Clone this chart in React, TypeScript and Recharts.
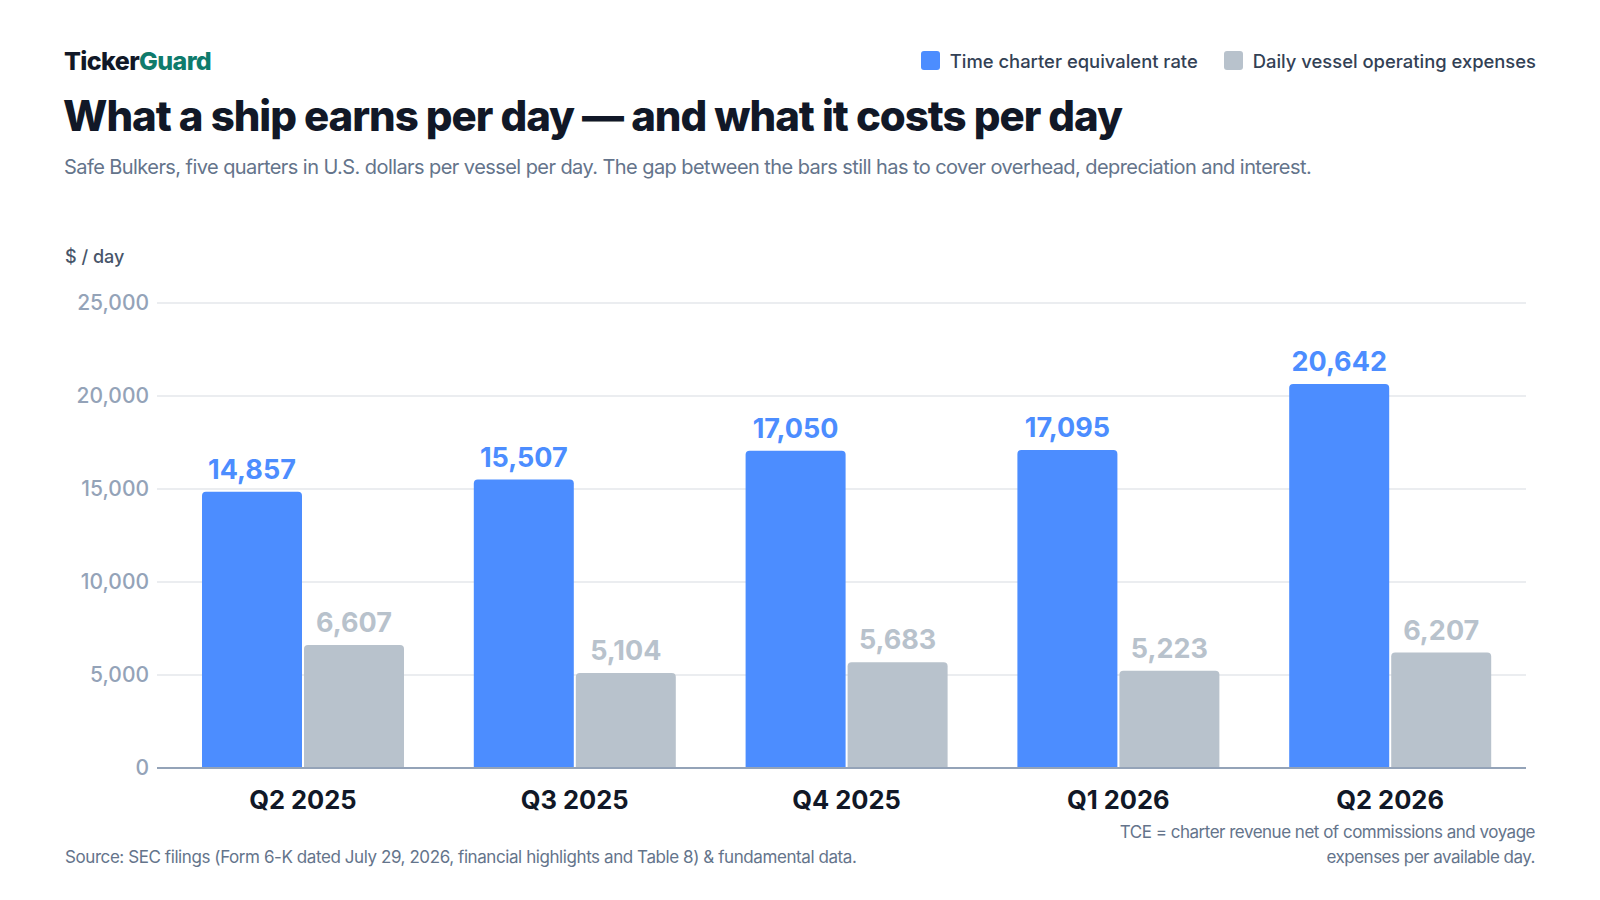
import { Bar, BarChart, CartesianGrid, LabelList, XAxis, YAxis } from "recharts";

const quarters = ["Q2 2025", "Q3 2025", "Q4 2025", "Q1 2026", "Q2 2026"];
const tceRate = [14857, 15507, 17050, 17095, 20642];
const opexPerDay = [6607, 5104, 5683, 5223, 6207];
const yTicks = [0, 5000, 10000, 15000, 20000, 25000];

const BLUE = "#4c8dff";
const GRAY = "#b8c2cc";
const FONT = "Inter, 'Noto Sans', sans-serif";

const rows = quarters.map((quarter, i) => ({
  quarter,
  tce: tceRate[i],
  opex: opexPerDay[i],
}));

const fmt = (v: number) => Number(v).toLocaleString("en-US");

function LegendItem({ color, label }: { color: string; label: string }) {
  return (
    <span style={{ display: "flex", alignItems: "center", gap: 10 }}>
      <span style={{ width: 19, height: 19, borderRadius: 3, background: color, display: "inline-block" }} />
      <span>{label}</span>
    </span>
  );
}

export default function App() {
  return (
    <div
      style={{
        position: "absolute",
        left: 0,
        top: 0,
        width: 1600,
        height: 900,
        background: "#ffffff",
        fontFamily: FONT,
        overflow: "hidden",
      }}
    >
      <div
        style={{
          position: "absolute",
          left: 64,
          top: 49,
          fontSize: 25,
          lineHeight: "25px",
          fontWeight: 800,
          letterSpacing: -0.6,
          color: "#111827",
        }}
      >
        Ticker<span style={{ color: "#0f7b6c" }}>Guard</span>
      </div>

      <div
        style={{
          position: "absolute",
          right: 64,
          top: 51,
          display: "flex",
          gap: 26,
          fontSize: 18.4,
          lineHeight: "18px",
          fontWeight: 500,
          color: "#334155",
        }}
      >
        <LegendItem color={BLUE} label="Time charter equivalent rate" />
        <LegendItem color={GRAY} label="Daily vessel operating expenses" />
      </div>

      <div
        style={{
          position: "absolute",
          left: 63,
          top: 95,
          fontSize: 42,
          lineHeight: "42px",
          fontWeight: 800,
          letterSpacing: -1.05,
          color: "#111827",
          whiteSpace: "nowrap",
        }}
      >
        What a ship earns per day — and what it costs per day
      </div>

      <div
        style={{
          position: "absolute",
          left: 64,
          top: 157,
          fontSize: 20,
          lineHeight: "20px",
          letterSpacing: -0.57,
          color: "#64748b",
          whiteSpace: "nowrap",
        }}
      >
        Safe Bulkers, five quarters in U.S. dollars per vessel per day. The gap between the bars still has to cover
        overhead, depreciation and interest.
      </div>

      <div
        style={{
          position: "absolute",
          left: 65,
          top: 248,
          fontSize: 18,
          lineHeight: "18px",
          fontWeight: 500,
          color: "#475569",
        }}
      >
        $ / day
      </div>

      <div style={{ position: "absolute", left: 0, top: 0 }}>
        <BarChart
          width={1600}
          height={900}
          data={rows}
          margin={{ top: 303, right: 74, bottom: 92, left: 0 }}
          barSize={100}
          barGap={2}
          style={{ fontFamily: FONT }}
        >
          <CartesianGrid vertical={false} stroke="#e5e7eb" strokeWidth={1.5} />
          <XAxis
            dataKey="quarter"
            interval={0}
            height={40}
            padding={{ left: 10, right: 0 }}
            tickLine={false}
            tickMargin={16.5}
            axisLine={{ stroke: "#94a3b8", strokeWidth: 2 }}
            tick={{ fill: "#111827", fontSize: 25.5, fontWeight: 700 }}
          />
          <YAxis
            width={157}
            domain={[0, 25000]}
            ticks={yTicks}
            tickFormatter={fmt}
            axisLine={false}
            tickLine={false}
            tick={{ fill: "#94a3b8", fontSize: 21, fontWeight: 500 }}
          />
          <Bar dataKey="tce" fill={BLUE} radius={[4, 4, 0, 0]} isAnimationActive={false}>
            <LabelList
              dataKey="tce"
              position="top"
              offset={13}
              formatter={fmt}
              fill={BLUE}
              fontSize={27}
              fontWeight={700}
            />
          </Bar>
          <Bar dataKey="opex" fill={GRAY} radius={[4, 4, 0, 0]} isAnimationActive={false}>
            <LabelList
              dataKey="opex"
              position="top"
              offset={13}
              formatter={fmt}
              fill={GRAY}
              fontSize={27}
              fontWeight={700}
            />
          </Bar>
        </BarChart>
      </div>

      <div
        style={{
          position: "absolute",
          left: 65,
          top: 849,
          fontSize: 17,
          lineHeight: "17px",
          letterSpacing: -0.42,
          color: "#64748b",
          whiteSpace: "nowrap",
        }}
      >
        Source: SEC filings (Form 6-K dated July 29, 2026, financial highlights and Table 8) &amp; fundamental data.
      </div>

      <div
        style={{
          position: "absolute",
          right: 65,
          top: 820,
          fontSize: 17,
          lineHeight: "25px",
          letterSpacing: -0.5,
          color: "#64748b",
          textAlign: "right",
          whiteSpace: "nowrap",
        }}
      >
        TCE = charter revenue net of commissions and voyage
        <br />
        expenses per available day.
      </div>
    </div>
  );
}
